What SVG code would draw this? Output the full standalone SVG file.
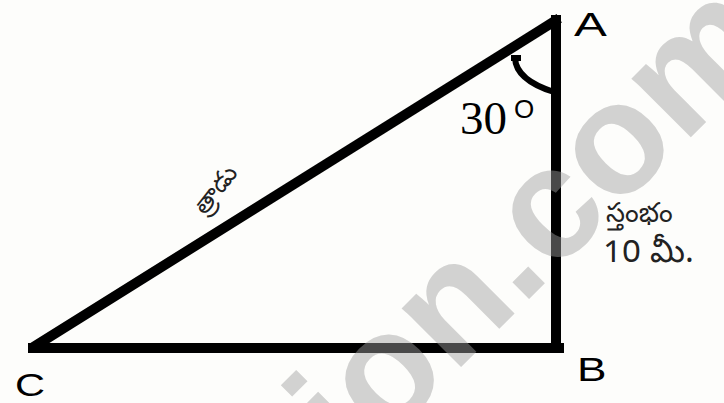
<svg xmlns="http://www.w3.org/2000/svg" width="724" height="403" viewBox="0 0 724 403">
  <style>
    .edge { stroke: #000; stroke-width: 10; fill: none; stroke-linecap: square; }
    .lbl { font-family: "Liberation Sans", Arial, sans-serif; fill: #000; }
    .tel { font-family: "Noto Sans Telugu", "Noto Sans", "Liberation Sans", sans-serif; fill: #222; }
    .wm { font-family: "Liberation Sans", Arial, sans-serif; font-weight: bold; fill: #a0a0a0; fill-opacity: 0.46; }
  </style>
  <rect x="0" y="0" width="724" height="403" fill="#fdfdfb"/>

  <g id="connectors">
    <line class="edge" x1="35" y1="346" x2="555" y2="21" stroke-width="9"/>
    <line class="edge" x1="556" y1="20" x2="556" y2="348"/>
    <line class="edge" x1="33" y1="348" x2="559" y2="348"/>
    <path d="M511,58 L521,58 M515,58 Q516,80 554,92" stroke="#000" stroke-width="6" fill="none"/>
  </g>

  <g id="A"><text class="lbl" x="0" y="0" font-size="34" transform="translate(574 36) scale(1.45 1)">A</text></g>
  <g id="B"><text class="lbl" x="0" y="0" font-size="34" transform="translate(577 381) scale(1.3 1)">B</text></g>
  <g id="C"><text class="lbl" x="0" y="0" font-size="32" transform="translate(15 396) scale(1.3 1)">C</text></g>

  <g id="angle">
    <text x="460" y="134" font-family="Liberation Serif, serif" font-size="47" fill="#000">30</text>
    <text x="514" y="118" font-family="Liberation Sans, sans-serif" font-size="26" fill="#000">O</text>
  </g>

  <g id="rope"><text class="tel" font-size="25" transform="translate(205 216) rotate(-52)">త్రాడు</text></g>

  <g id="pillar">
    <text class="tel" x="606" y="222" font-size="27">స్తంభం</text>
    <text class="tel" x="603" y="262" font-size="33">10 మీ.</text>
  </g>

  <g id="watermark"><text class="wm" x="0" y="0" font-size="158" transform="translate(354 474) rotate(-45)">ion.com</text></g>
</svg>
